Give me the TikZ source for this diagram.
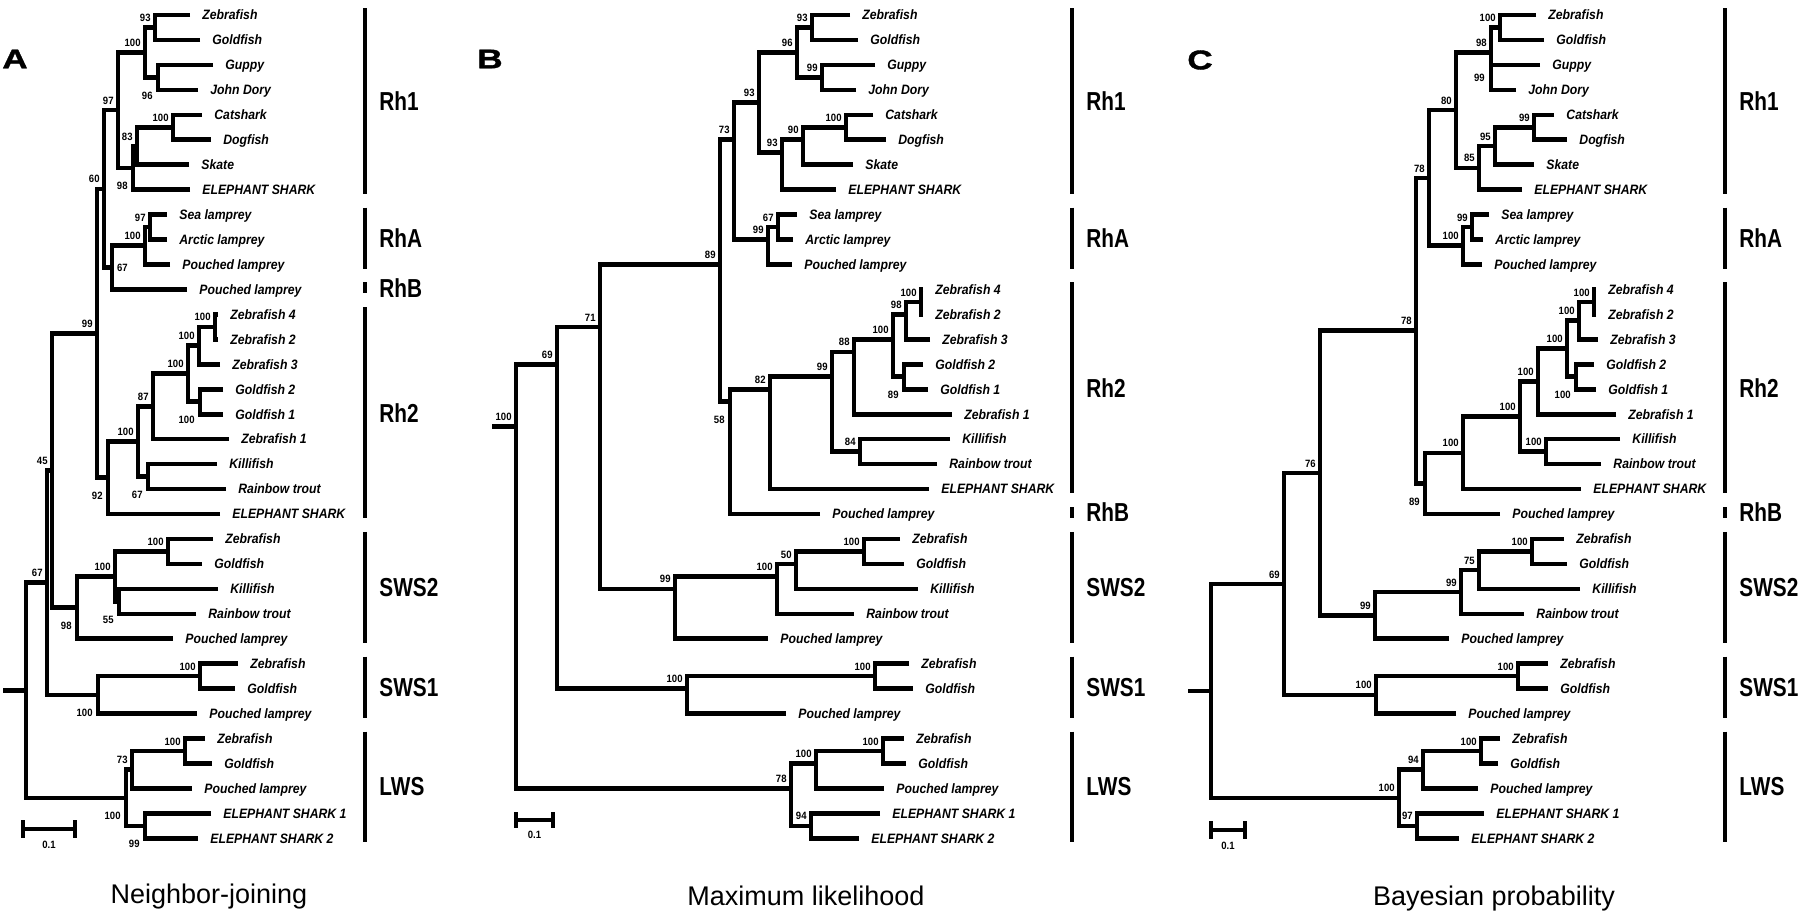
\documentclass[tikz,border=0pt]{standalone}
\usepackage{fontspec}
\setmainfont{Liberation Sans}
\newfontfamily\tipfont[FakeStretch=0.9]{Liberation Sans}
\newfontfamily\bootfont[FakeStretch=0.9]{Liberation Sans}
\newfontfamily\cladefont[FakeStretch=0.8]{Liberation Sans}
\newfontfamily\panelfont[FakeStretch=1.3,FakeBold=1.5]{Liberation Sans}
\usetikzlibrary{calc}

% row y, stored row/leaf counts
\newif\ifleafmean
\newcommand\rowy[1]{15+24.95*(#1)}
\newcommand\setrow[3]{\expandafter\xdef\csname r@#1\endcsname{#2}\expandafter\xdef\csname n@#1\endcsname{#3}}
\newcommand\getr[1]{\csname r@#1\endcsname}
\newcommand\getn[1]{\csname n@#1\endcsname}

% leaf: name, row, tip x, species
\newcommand\leaf[4]{%
  \setrow{#1}{#2}{1}%
  \coordinate (#1) at (#3,{\rowy{#2}});
  \node[tip] (#1-t) at (#1) {#4};}

% clade: name, x, first child, last child, support, label style
\newcommand\clade[6]{%
  \pgfmathsetmacro\ccnt{\getn{#3}+\getn{#4}}%
  \ifleafmean
    \pgfmathsetmacro\crow{(\getr{#3}*\getn{#3}+\getr{#4}*\getn{#4})/\ccnt}%
  \else
    \pgfmathsetmacro\crow{(\getr{#3}+\getr{#4})/2}%
  \fi
  \setrow{#1}{\crow}{\ccnt}%
  \coordinate (#1) at (#2,{\rowy{\crow}});
  \draw[branch] (#3) -| (#1);
  \draw[branch] (#4) -| (#1);
  \node[#6] (#1-s) at (#1) {#5};}

% opsin group bar: id, x, first row, last row, name
\newcommand\cladebar[5]{%
  \coordinate (#1-top) at (#2,{\rowy{#3}-7});
  \coordinate (#1-bot) at (#2,{\rowy{#4}+4});
  \draw[bar] (#1-top) -- (#1-bot);
  \node[grp] (#1) at ($(#1-top)!0.5!(#1-bot)$) {#5};}

\tikzset{
  branch/.style={line width=2.3pt},
  bar/.style={line width=2.4pt},
  tip/.style={anchor=base west, inner sep=0pt, xshift=6pt, yshift=-2.4pt,
    font=\tipfont\bfseries\itshape\fontsize{6.8}{8}\selectfont},
  boot/.style={inner sep=0pt, font=\bootfont\bfseries\fontsize{5.3}{6}\selectfont},
  ab/.style={boot, anchor=south east, xshift=-2pt, yshift=2.7pt},
  be/.style={boot, anchor=north east, xshift=-2.5pt, yshift=-7pt},
  le/.style={boot, anchor=east, xshift=-3pt},
  ri/.style={boot, anchor=west, xshift=2.3pt},
  grp/.style={anchor=west, inner sep=0pt, xshift=7pt,
    font=\cladefont\bfseries\fontsize{13}{15}\selectfont},
  panel/.style={inner sep=0pt, font=\panelfont\bfseries\fontsize{13.5}{15}\selectfont},
  method/.style={anchor=base, inner sep=0pt, font=\fontsize{13.5}{16}\selectfont},
  scalebar/.style={line width=2.3pt},
}

\begin{document}
\begin{tikzpicture}[x=0.5pt,y=-0.5pt]
\useasboundingbox (0,0) rectangle (1800,922);

% ---------------- A: neighbor-joining ----------------
\node[panel] (pA) at (15,59) {A};
\foreach \r/\x/\t in {0/190/Zebrafish,1/200/Goldfish,2/213/Guppy,3/198/John Dory,
    4/202/Catshark,5/211/Dogfish,6/189/Skate,7/190/ELEPHANT SHARK,
    8/167/Sea lamprey,9/167/Arctic lamprey,10/170/Pouched lamprey,11/187/Pouched lamprey,
    12/218/Zebrafish 4,13/218/Zebrafish 2,14/220/Zebrafish 3,15/223/Goldfish 2,
    16/223/Goldfish 1,17/229/Zebrafish 1,18/217/Killifish,19/226/Rainbow trout,
    20/220/ELEPHANT SHARK,21/213/Zebrafish,22/202/Goldfish,23/218/Killifish,
    24/196/Rainbow trout,25/173/Pouched lamprey,26/238/Zebrafish,27/235/Goldfish,
    28/197/Pouched lamprey,29/205/Zebrafish,30/212/Goldfish,31/192/Pouched lamprey,
    32/211/ELEPHANT SHARK 1,33/198/ELEPHANT SHARK 2}
  {\leaf{A\r}{\r}{\x}{\t}}

\leafmeanfalse
% Rh1
\clade{aZG}{155}{A0}{A1}{93}{ab}
\clade{aGJ}{158}{A2}{A3}{96}{be}
\clade{aTel}{145}{aZG}{aGJ}{100}{ab}
\clade{aCD}{173}{A4}{A5}{100}{ab}
\clade{a83}{137}{aCD}{A6}{83}{ab}
\clade{a98}{133}{a83}{A7}{98}{be}
\clade{aR1}{118}{aTel}{a98}{97}{ab}
% RhA, RhB
\clade{aSA}{150}{A8}{A9}{97}{ab}
\clade{aRA}{145}{aSA}{A10}{100}{ab}
\clade{a67}{112}{aRA}{A11}{67}{ri}
\clade{aP}{104}{aR1}{a67}{60}{ab}
% Rh2
\clade{aZ42}{215}{A12}{A13}{100}{ab}
\clade{aZ3}{199}{aZ42}{A14}{100}{ab}
\clade{aG21}{200}{A15}{A16}{100}{be}
\clade{aZG2}{188}{aZ3}{aG21}{100}{ab}
\clade{a87}{153}{aZG2}{A17}{87}{ab}
\clade{aKR}{148}{A18}{A19}{67}{be}
\clade{aT}{138}{a87}{aKR}{100}{ab}
\clade{a92}{108}{aT}{A20}{92}{be}
\clade{aQ}{97}{aP}{a92}{99}{ab}
% SWS2
\clade{aSZG}{168}{A21}{A22}{100}{ab}
\clade{a55}{119}{A23}{A24}{55}{be}
\clade{aS}{115}{aSZG}{a55}{100}{ab}
\clade{aS2}{77}{aS}{A25}{98}{be}
\clade{aX}{52}{aQ}{aS2}{45}{ab}
% SWS1
\clade{aS1ZG}{200}{A26}{A27}{100}{ab}
\clade{aS1}{98}{aS1ZG}{A28}{100}{be}
\clade{aY}{47}{aX}{aS1}{67}{ab}
% LWS
\clade{aLZG}{185}{A29}{A30}{100}{ab}
\clade{a73}{132}{aLZG}{A31}{73}{ab}
\clade{aES}{145}{A32}{A33}{99}{be}
\clade{aL}{126}{a73}{aES}{100}{be}
\clade{aRoot}{26}{aY}{aL}{}{ab}
\path (aRoot) ++(-23,0) coordinate (aStub);
\draw[branch] (aStub) -- (aRoot);

\cladebar{aRh1}{365}{0}{7}{Rh1}
\cladebar{aRhA}{365}{8}{10}{RhA}
\cladebar{aRhB}{365}{11}{11}{RhB}
\cladebar{aRh2}{365}{12}{20}{Rh2}
\cladebar{aSWS2}{365}{21}{25}{SWS2}
\cladebar{aSWS1}{365}{26}{28}{SWS1}
\cladebar{aLWS}{365}{29}{33}{LWS}

% scale
\coordinate (aB0) at (23,829); \coordinate (aB1) at (75,829);
\draw[scalebar] (aB0) -- (aB1);
\draw[scalebar] ($(aB0)+(0,-9)$) -- ($(aB0)+(0,9)$);
\draw[scalebar] ($(aB1)+(0,-9)$) -- ($(aB1)+(0,9)$);
\node[boot, anchor=north] (aB) at ($(aB0)!0.5!(aB1)+(0,12)$) {0.1};
\node[method] (mA) at (209,903) {Neighbor-joining};

% ---------------- B: maximum likelihood ----------------
\node[panel] (pB) at (490,59) {B};
\foreach \r/\x/\t in {0/850/Zebrafish,1/858/Goldfish,2/875/Guppy,3/856/John Dory,
    4/873/Catshark,5/886/Dogfish,6/853/Skate,7/836/ELEPHANT SHARK,
    8/797/Sea lamprey,9/793/Arctic lamprey,10/792/Pouched lamprey,
    11/923/Zebrafish 4,12/923/Zebrafish 2,13/930/Zebrafish 3,14/923/Goldfish 2,
    15/928/Goldfish 1,16/952/Zebrafish 1,17/950/Killifish,18/937/Rainbow trout,
    19/929/ELEPHANT SHARK,20/820/Pouched lamprey,21/900/Zebrafish,22/904/Goldfish,
    23/918/Killifish,24/854/Rainbow trout,25/768/Pouched lamprey,26/909/Zebrafish,
    27/913/Goldfish,28/786/Pouched lamprey,29/904/Zebrafish,30/906/Goldfish,
    31/884/Pouched lamprey,32/880/ELEPHANT SHARK 1,33/859/ELEPHANT SHARK 2}
  {\leaf{B\r}{\r}{\x}{\t}}

\leafmeantrue
% Rh1
\clade{bZG}{812}{B0}{B1}{93}{ab}
\clade{bGJ}{822}{B2}{B3}{99}{ab}
\clade{b96}{797}{bZG}{bGJ}{96}{ab}
\clade{bCD}{846}{B4}{B5}{100}{ab}
\clade{b90}{803}{bCD}{B6}{90}{ab}
\clade{b93}{782}{b90}{B7}{93}{ab}
\clade{bR1}{759}{b96}{b93}{93}{ab}
% RhA
\clade{bSA}{778}{B8}{B9}{67}{ab}
\clade{bRA}{768}{bSA}{B10}{99}{ab}
\clade{b73}{734}{bR1}{bRA}{73}{ab}
% Rh2, RhB
\clade{bZ42}{921}{B11}{B12}{100}{ab}
\clade{b98}{906}{bZ42}{B13}{98}{ab}
\clade{bG21}{904}{B14}{B15}{89}{be}
\clade{bZG2}{893}{b98}{bG21}{100}{ab}
\clade{b88}{854}{bZG2}{B16}{88}{ab}
\clade{bKR}{860}{B17}{B18}{84}{ab}
\clade{b99}{832}{b88}{bKR}{99}{ab}
\clade{b82}{770}{b99}{B19}{82}{ab}
\clade{b58}{730}{b82}{B20}{58}{be}
\clade{b89}{720}{b73}{b58}{89}{ab}
% SWS2
\clade{bSZG}{864}{B21}{B22}{100}{ab}
\clade{b50}{796}{bSZG}{B23}{50}{ab}
\clade{bS}{777}{b50}{B24}{100}{ab}
\clade{bS2}{675}{bS}{B25}{99}{ab}
\clade{b71}{600}{b89}{bS2}{71}{ab}
% SWS1
\clade{bS1ZG}{875}{B26}{B27}{100}{ab}
\clade{bS1}{687}{bS1ZG}{B28}{100}{ab}
\clade{b69}{557}{b71}{bS1}{69}{ab}
% LWS
\clade{bLZG}{883}{B29}{B30}{100}{ab}
\clade{bL1}{816}{bLZG}{B31}{100}{ab}
\clade{bES}{811}{B32}{B33}{94}{ab}
\clade{b78}{791}{bL1}{bES}{78}{ab}
\clade{bRoot}{516}{b69}{b78}{100}{ab}
\path (bRoot) ++(-24,0) coordinate (bStub);
\draw[branch] (bStub) -- (bRoot);
\leafmeanfalse

\cladebar{bRh1}{1072}{0}{7}{Rh1}
\cladebar{bRhA}{1072}{8}{10}{RhA}
\cladebar{bRh2}{1072}{11}{19}{Rh2}
\cladebar{bRhB}{1072}{20}{20}{RhB}
\cladebar{bSWS2}{1072}{21}{25}{SWS2}
\cladebar{bSWS1}{1072}{26}{28}{SWS1}
\cladebar{bLWS}{1072}{29}{33}{LWS}

\coordinate (bB0) at (516,820); \coordinate (bB1) at (553,820);
\draw[scalebar] (bB0) -- (bB1);
\draw[scalebar] ($(bB0)+(0,-8)$) -- ($(bB0)+(0,8)$);
\draw[scalebar] ($(bB1)+(0,-8)$) -- ($(bB1)+(0,8)$);
\node[boot, anchor=north] (bB) at ($(bB0)!0.5!(bB1)+(0,11)$) {0.1};
\node[method] (mB) at (806,905) {Maximum likelihood};

% ---------------- C: Bayesian ----------------
\node[panel] (pC) at (1200,60) {C};
\foreach \r/\x/\t in {0/1536/Zebrafish,1/1544/Goldfish,2/1540/Guppy,3/1516/John Dory,
    4/1554/Catshark,5/1567/Dogfish,6/1534/Skate,7/1522/ELEPHANT SHARK,
    8/1489/Sea lamprey,9/1483/Arctic lamprey,10/1482/Pouched lamprey,
    11/1596/Zebrafish 4,12/1596/Zebrafish 2,13/1598/Zebrafish 3,14/1594/Goldfish 2,
    15/1596/Goldfish 1,16/1616/Zebrafish 1,17/1620/Killifish,18/1601/Rainbow trout,
    19/1581/ELEPHANT SHARK,20/1500/Pouched lamprey,21/1564/Zebrafish,22/1567/Goldfish,
    23/1580/Killifish,24/1524/Rainbow trout,25/1449/Pouched lamprey,26/1548/Zebrafish,
    27/1548/Goldfish,28/1456/Pouched lamprey,29/1500/Zebrafish,30/1498/Goldfish,
    31/1478/Pouched lamprey,32/1484/ELEPHANT SHARK 1,33/1459/ELEPHANT SHARK 2}
  {\leaf{C\r}{\r}{\x}{\t}}

% Rh1
\clade{cZG}{1500}{C0}{C1}{100}{ab}
\clade{cGJ}{1491}{C2}{C3}{99}{le}
\clade{cTel}{1491}{cZG}{cGJ}{98}{ab}
\clade{cCD}{1534}{C4}{C5}{99}{ab}
\clade{c95}{1495}{cCD}{C6}{95}{ab}
\clade{c85}{1479}{c95}{C7}{85}{ab}
\clade{c80}{1456}{cTel}{c85}{80}{ab}
% RhA
\clade{cSA}{1472}{C8}{C9}{99}{ab}
\clade{cRA}{1463}{cSA}{C10}{100}{ab}
\clade{c78a}{1429}{c80}{cRA}{78}{ab}
% Rh2, RhB
\clade{cZ42}{1594}{C11}{C12}{100}{ab}
\clade{cZ3}{1579}{cZ42}{C13}{100}{ab}
\clade{cG21}{1576}{C14}{C15}{100}{be}
\clade{cZG2}{1567}{cZ3}{cG21}{100}{ab}
\clade{cT}{1538}{cZG2}{C16}{100}{ab}
\clade{cKR}{1546}{C17}{C18}{100}{ab}
\clade{cS}{1520}{cT}{cKR}{100}{ab}
\clade{cR}{1463}{cS}{C19}{100}{ab}
\clade{c89}{1425}{cR}{C20}{89}{be}
\clade{c78b}{1416}{c78a}{c89}{78}{ab}
% SWS2
\clade{cSZG}{1532}{C21}{C22}{100}{ab}
\clade{c75}{1479}{cSZG}{C23}{75}{ab}
\clade{c99}{1461}{c75}{C24}{99}{ab}
\clade{cS2}{1375}{c99}{C25}{99}{ab}
\clade{c76}{1320}{c78b}{cS2}{76}{ab}
% SWS1
\clade{cS1ZG}{1518}{C26}{C27}{100}{ab}
\clade{cS1}{1376}{cS1ZG}{C28}{100}{ab}
\clade{c69}{1284}{c76}{cS1}{69}{ab}
% LWS
\clade{cLZG}{1481}{C29}{C30}{100}{ab}
\clade{c94}{1423}{cLZG}{C31}{94}{ab}
\clade{cES}{1417}{C32}{C33}{97}{ab}
\clade{cL}{1399}{c94}{cES}{100}{ab}
\clade{cRoot}{1211}{c69}{cL}{}{ab}
\path (cRoot) ++(-23,0) coordinate (cStub);
\draw[branch] (cStub) -- (cRoot);

\cladebar{cRh1}{1725}{0}{7}{Rh1}
\cladebar{cRhA}{1725}{8}{10}{RhA}
\cladebar{cRh2}{1725}{11}{19}{Rh2}
\cladebar{cRhB}{1725}{20}{20}{RhB}
\cladebar{cSWS2}{1725}{21}{25}{SWS2}
\cladebar{cSWS1}{1725}{26}{28}{SWS1}
\cladebar{cLWS}{1725}{29}{33}{LWS}

\coordinate (cB0) at (1211,830); \coordinate (cB1) at (1245,830);
\draw[scalebar] (cB0) -- (cB1);
\draw[scalebar] ($(cB0)+(0,-9)$) -- ($(cB0)+(0,9)$);
\draw[scalebar] ($(cB1)+(0,-9)$) -- ($(cB1)+(0,9)$);
\node[boot, anchor=north] (cB) at ($(cB0)!0.5!(cB1)+(0,12)$) {0.1};
\node[method] (mC) at (1494,905) {Bayesian probability};
\end{tikzpicture}
\end{document}
